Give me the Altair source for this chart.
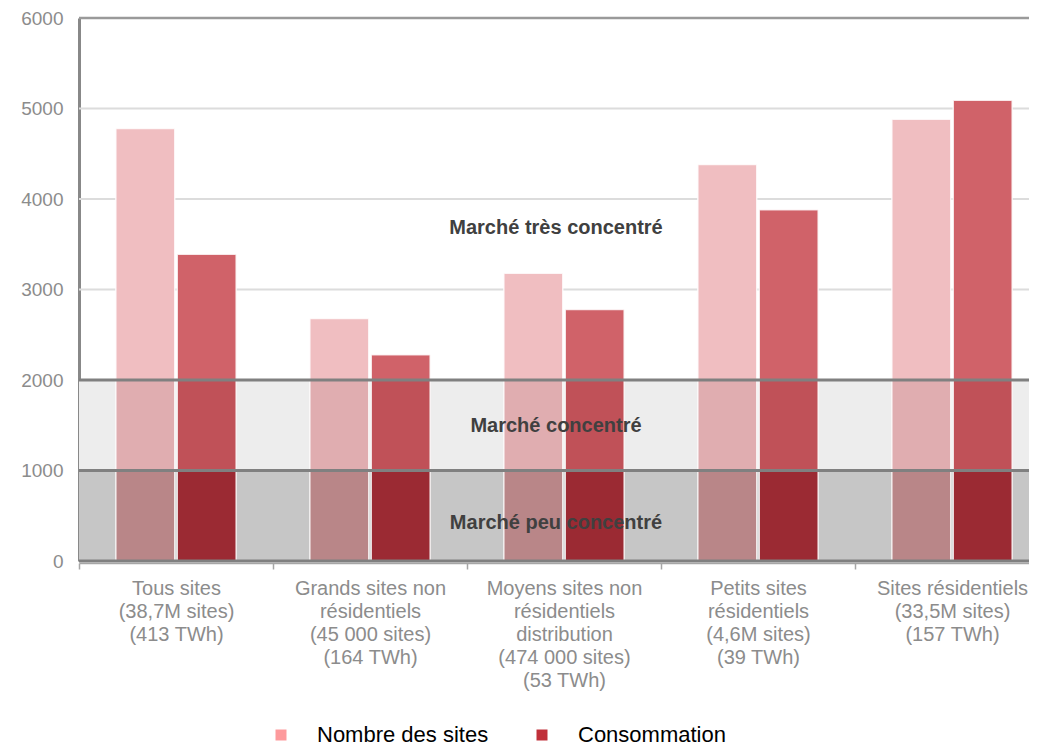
import altair as alt
import pandas as pd

categories = [
    "Tous sites\n(38,7M sites)\n(413 TWh)",
    "Grands sites non\nrésidentiels\n(45 000 sites)\n(164 TWh)",
    "Moyens sites non\nrésidentiels\ndistribution\n(474 000 sites)\n(53 TWh)",
    "Petits sites\nrésidentiels\n(4,6M sites)\n(39 TWh)",
    "Sites résidentiels\n(33,5M sites)\n(157 TWh)",
]
series = ["Nombre des sites", "Consommation"]
nombre_sites = [4780, 2680, 3180, 4380, 4880]
consommation = [3390, 2280, 2780, 3880, 5090]

zone_lo = [0, 1000, 2000]
zone_hi = [1000, 2000, 6000]
zone_names = ["Marché peu concentré", "Marché concentré", "Marché très concentré"]
zone_label_y = [420, 1490, 3680]
band_fill = ["#c6c6c6", "#ededed"]
grid_values = [3000, 4000, 5000]
thick_values = [0, 1000, 2000]
top_value = [6000]
y_ticks = [0, 1000, 2000, 3000, 4000, 5000, 6000]

legend_colors = ["#fd9a9c", "#c0303a"]
pink_zone_colors = ["#b98688", "#e0adb0", "#f0bec1"]
red_zone_colors = ["#9b2a33", "#c05158", "#d06269"]

# ---- tables built from the arrays ----
rows = []
for s, vals in zip(series, [nombre_sites, consommation]):
    for c, v in zip(categories, vals):
        for z, (lo, hi) in enumerate(zip(zone_lo, zone_hi)):
            if v > lo:
                rows.append({"cat": c, "serie": s, "y0": lo, "y1": min(v, hi),
                             "key": f"{s}|{z}"})
seg = pd.DataFrame(rows)

color_domain = series + [f"{series[0]}|{z}" for z in range(3)] + [f"{series[1]}|{z}" for z in range(3)]
color_range = legend_colors + pink_zone_colors + red_zone_colors

bands = pd.DataFrame({"y0": zone_lo[:2], "y1": zone_hi[:2], "fill": band_fill})
grid = pd.DataFrame({"v": grid_values})
thick = pd.DataFrame({"v": thick_values})
top = pd.DataFrame({"v": top_value})
labels = pd.DataFrame({"txt": zone_names, "y": zone_label_y, "cat": [categories[2]] * 3})

yscale = alt.Scale(domain=[0, 6000], nice=False)
xscale = alt.Scale(domain=categories, range=[0, 970], paddingInner=0, paddingOuter=0)

yaxis = alt.Axis(values=y_ticks, format="d", grid=False, ticks=False,
                 labelFontSize=19, labelColor="#8c8c8c", labelFont="Liberation Sans",
                 labelPadding=16, domainColor="#888888", domainWidth=3)
xaxis = alt.Axis(labelExpr="split(datum.label, '\\n')", labelAngle=0,
                 labelFontSize=20, labelColor="#8c8c8c", labelFont="Liberation Sans",
                 labelLineHeight=23, labelPadding=9, labelLimit=0,
                 tickBand="extent", tickSize=6, tickColor="#a6a6a6", tickWidth=1.5,
                 domainColor="#a6a6a6", domainWidth=1.5, offset=2)

band_layer = alt.Chart(bands).mark_rect().encode(
    y=alt.Y("y0:Q", scale=yscale, axis=yaxis, title=None),
    y2="y1:Q",
    fill=alt.Fill("fill:N", scale=None),
)

grid_layer = alt.Chart(grid).mark_rule(color="#dcdcdc", strokeWidth=2).encode(
    y=alt.Y("v:Q", scale=yscale, axis=yaxis, title=None)
)

bars = alt.Chart(seg).mark_bar(stroke="white", strokeWidth=1.5, strokeOpacity=0.8).encode(
    x=alt.X("cat:N", sort=categories, scale=xscale, title=None, axis=xaxis),
    xOffset=alt.XOffset("serie:N", sort=series,
                        scale=alt.Scale(paddingInner=0.04, paddingOuter=0.6)),
    y=alt.Y("y0:Q", scale=yscale, title=None, axis=yaxis),
    y2="y1:Q",
    color=alt.Color("key:N", scale=alt.Scale(domain=color_domain, range=color_range),
                    legend=alt.Legend(values=series, title=None, orient="none",
                                      legendX=191, legendY=706, direction="horizontal",
                                      symbolType="square", symbolSize=121,
                                      symbolStrokeWidth=0, labelFontSize=22,
                                      labelFont="Liberation Sans", labelColor="#000000",
                                      labelLimit=0,
                                      labelOffset=25, columnPadding=42, padding=0)),
)

thick_layer = alt.Chart(thick).mark_rule(color="#808080", strokeWidth=3).encode(
    y=alt.Y("v:Q", scale=yscale, axis=yaxis, title=None)
)

top_layer = alt.Chart(top).mark_rule(color="#9a9a9a", strokeWidth=2.5).encode(
    y=alt.Y("v:Q", scale=yscale, axis=yaxis, title=None)
)

text_layer = alt.Chart(labels).mark_text(
    font="Liberation Sans", fontWeight="bold", fontSize=20, color="#404040", dx=-8
).encode(
    x=alt.X("cat:N", sort=categories, scale=xscale, title=None, axis=xaxis),
    y=alt.Y("y:Q", scale=yscale, axis=yaxis, title=None),
    text="txt:N",
)

chart = alt.layer(band_layer, grid_layer, bars, thick_layer, top_layer, text_layer).properties(
    width=950, height=543,
    autosize=alt.AutoSizeParams(type="none"),
    padding={"left": 71, "top": 10, "right": 0, "bottom": 186},
).configure_view(strokeWidth=0).configure(background="white")

chart.save("out.html", embed_options={"renderer": "svg", "actions": False})
